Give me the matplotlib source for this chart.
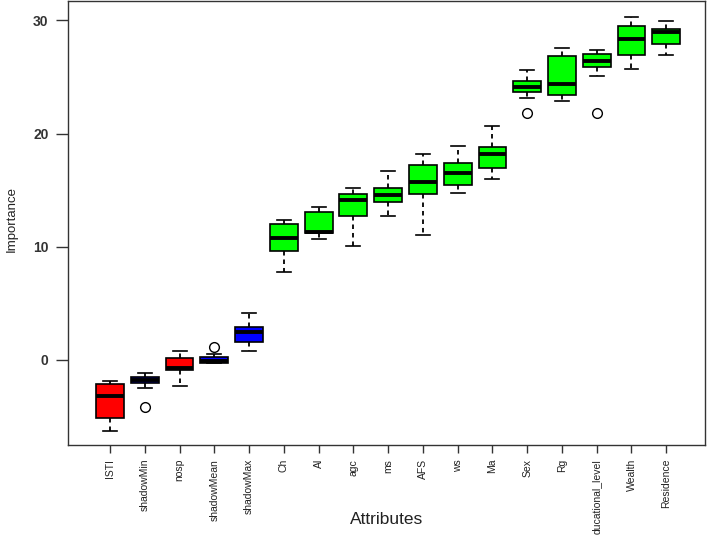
import matplotlib
matplotlib.use("Agg")
import matplotlib.pyplot as plt

plt.rcParams['font.family'] = ['Liberation Sans', 'DejaVu Sans']

# Boruta importance summary
attributes = ["ISTI", "shadowMin", "nosp", "shadowMean", "shadowMax", "Ch", "Al",
              "agc", "ms", "AFS", "ws", "Ma", "Sex", "Rg", "ducational_level",
              "Wealth", "Residence"]
decision = ["rejected", "shadow", "rejected", "shadow", "shadow"] + ["confirmed"] * 12

whis_lo = [-6.27, -2.5, -2.3, -0.3, 0.82, 7.75, 10.66, 10.07, 12.72, 11.04, 14.72,
           15.99, 23.14, 22.9, 25.09, 25.68, 26.97]
q1 = [-5.1, -2.03, -0.88, -0.27, 1.59, 9.66, 11.19, 12.75, 13.96, 14.69, 15.43,
      16.96, 23.63, 23.44, 25.9, 26.97, 27.89]
median = [-3.18, -1.74, -0.73, -0.06, 2.44, 10.8, 11.28, 14.13, 14.55, 15.75, 16.49,
          18.17, 24.07, 24.35, 26.41, 28.36, 28.93]
q3 = [-2.12, -1.47, 0.15, 0.24, 2.92, 11.98, 13.07, 14.69, 15.16, 17.23, 17.43,
      18.82, 24.67, 26.86, 27.03, 29.47, 29.2]
whis_hi = [-1.86, -1.15, 0.8, 0.56, 4.12, 12.4, 13.55, 15.16, 16.7, 18.2, 18.93,
           20.67, 25.6, 27.59, 27.36, 30.3, 29.95]
outliers = [[], [-4.15], [], [1.12], [], [], [], [], [], [], [], [],
            [21.85], [], [21.85], [], []]

colours = {"confirmed": "#00FF00", "rejected": "#FF0000", "shadow": "#0000FF"}

stats = []
for i in range(len(attributes)):
    stats.append({"whislo": whis_lo[i], "q1": q1[i], "med": median[i], "q3": q3[i],
                  "whishi": whis_hi[i], "fliers": outliers[i]})

fig = plt.figure(figsize=(7.08, 5.36), dpi=100)
ax = fig.add_axes([0.096, 0.17, 0.9, 0.828])

pos = list(range(1, len(attributes) + 1))
bp = ax.bxp(stats, positions=pos, widths=0.8, patch_artist=True,
            boxprops=dict(edgecolor="black", linewidth=1.2),
            medianprops=dict(color="black", linewidth=2.8, solid_capstyle="butt"),
            whiskerprops=dict(color="black", linestyle=(0, (2.5, 2.2)), linewidth=1.3),
            capprops=dict(color="black", linewidth=1.2),
            capwidths=0.4,
            flierprops=dict(marker="o", markerfacecolor="none", markeredgecolor="black",
                            markersize=7, markeredgewidth=1))
for patch, d in zip(bp["boxes"], decision):
    patch.set_facecolor(colours[d])

ax.set_xlim(-0.21, 18.12)
ax.set_ylim(-7.5, 31.7)
ax.set_xticks(pos)
ax.set_xticklabels(attributes, rotation=90, fontsize=7.5, color="#222222")
ax.set_yticks([0, 10, 20, 30])
ax.set_yticklabels(["0", "10", "20", "30"], fontsize=10, color="#333333", fontweight="bold")
ax.tick_params(axis="both", direction="out", width=1, color="#333333")
ax.tick_params(axis="x", length=6, pad=4)
ax.tick_params(axis="y", length=9, pad=5)
for s in ax.spines.values():
    s.set_linewidth(1)
    s.set_color("#333333")

fig.text(387 / 708, 1 - 519 / 536, "Attributes", fontsize=12.5, color="#222222",
         ha="center", va="center")
fig.text(12 / 708, 1 - 219 / 536, "Importance", fontsize=9.5, color="#222222",
         ha="center", va="center", rotation=90)

fig.savefig("out.png", dpi=100)
